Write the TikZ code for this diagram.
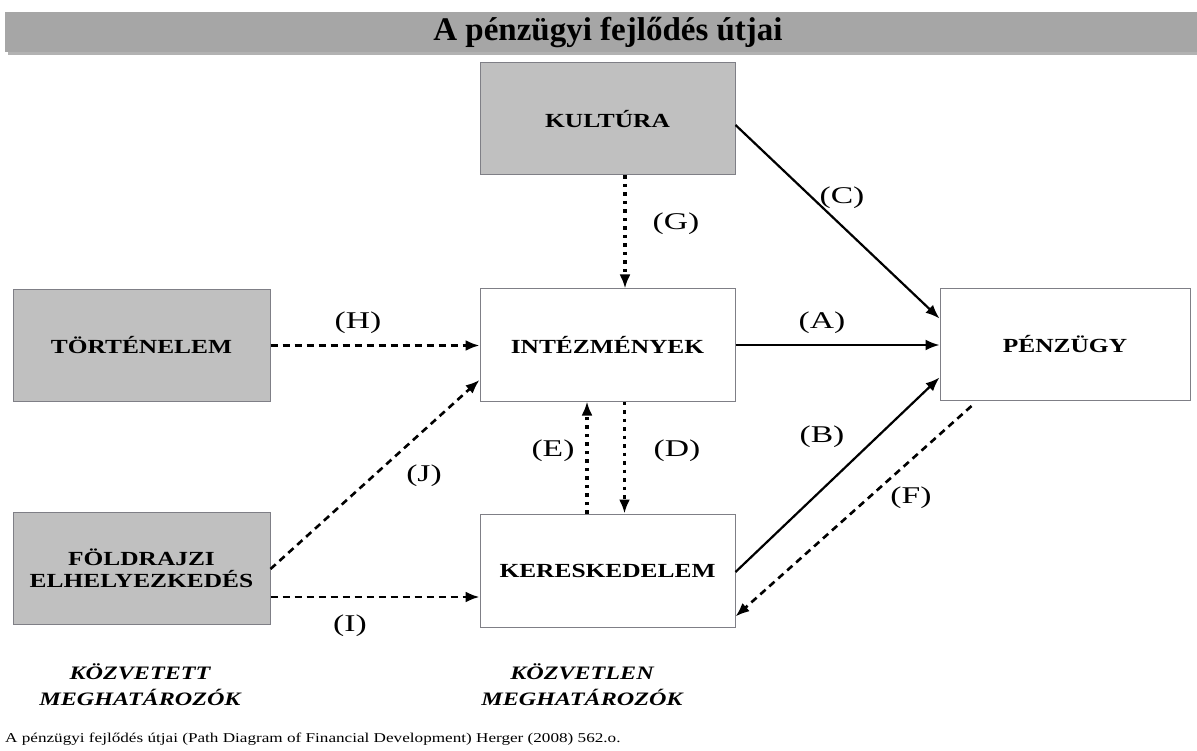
\documentclass[tikz,border=0pt]{standalone}
\usepackage{fontspec}
\setmainfont{Liberation Serif}
\newfontfamily\wideserif[FakeStretch=1.27]{Liberation Serif}
\newfontfamily\labserif[FakeStretch=1.4]{Liberation Serif}
\usetikzlibrary{arrows.meta}
\definecolor{boxgray}{HTML}{C0C0C0}
\definecolor{titlegray}{HTML}{A6A6A6}
\definecolor{edgegray}{HTML}{7F7F86}
\begin{document}
\begin{tikzpicture}[x=1pt,y=-1pt,
  box/.style={draw=edgegray,line width=1pt,minimum width=255pt,minimum height=112pt,inner sep=0pt,align=center,font=\wideserif\bfseries\fontsize{20}{25}\selectfont},
  grey/.style={box,fill=boxgray},
  white/.style={box,fill=white},
  lab/.style={font=\labserif\fontsize{24}{26}\selectfont,inner sep=0pt},
  tip/.style={-{Latex[length=14pt,width=11pt]}},
  solidarr/.style={tip,line width=2.2pt},
  dasharr/.style={tip,line width=2.6pt,dash pattern=on 7pt off 5pt},
  dotarr/.style={tip,line width=3.4pt,dash pattern=on 3.5pt off 5pt},
  foot/.style={font=\wideserif\bfseries\itshape\fontsize{19}{26}\selectfont,align=center,inner sep=0pt}]
\useasboundingbox (0,0) rectangle (1197,751);
\fill[white] (-1,-1) rectangle (1198,752);
% title bar
\fill[gray!60] (8,15) rectangle (1197,55);
\node[fill=titlegray,minimum width=1192pt,minimum height=40pt,inner sep=0pt] (bar) at (601,32) {};
\node[font=\bfseries\fontsize{33}{36}\selectfont] (title) at (608,33) {A pénzügyi fejlődés útjai};
% boxes
\node[grey]  (kult)  at (607.5,119)  {KULTÚRA};
\node[grey,minimum width=257pt]  (tort)  at (141.5,345.5) {TÖRTÉNELEM};
\node[white] (intez) at (607.5,345)  {INTÉZMÉNYEK};
\node[white,minimum width=250pt] (penz)  at (1065,344.5) {PÉNZÜGY};
\node[grey,minimum width=257pt]  (fold)  at (141.5,568)  {FÖLDRAJZI\\[-3pt]ELHELYEZKEDÉS};
\node[white,minimum height=113pt] (keres) at (607.5,570.5) {KERESKEDELEM};
% connectors
\draw[dotarr] ([xshift=17.5pt]kult.south) -- ([xshift=17.5pt]intez.north);
\draw[dasharr] (tort.east) -- (tort.east -| intez.west);
\draw[dasharr] ([yshift=-1pt]fold.east) -- ([yshift=-35pt]intez.west);
\draw[dasharr] ([yshift=-29pt]fold.east) -- ([yshift=-29pt]fold.east -| keres.west);
\draw[solidarr] (intez.east) -- (intez.east -| penz.west);
\draw[solidarr] ([yshift=-6pt]kult.east) -- ([yshift=26pt]penz.west);
\draw[solidarr] ([yshift=-1.5pt]keres.east) -- ([yshift=-33pt]penz.west);
\draw[dasharr] ([xshift=32pt,yshift=-5pt]penz.south west) -- ([yshift=-46pt]keres.east);
\draw[dotarr] ([xshift=-20.5pt]keres.north) -- ([xshift=-20.5pt]intez.south);
\draw[dotarr] ([xshift=17pt]intez.south) -- ([xshift=17pt]keres.north);
% labels
\node[lab] (lC) at (842,198) {(C)};
\node[lab] (lG) at (676,224) {(G)};
\node[lab] (lH) at (358,323) {(H)};
\node[lab] (lA) at (822,323) {(A)};
\node[lab] (lE) at (553,451) {(E)};
\node[lab] (lD) at (677,451) {(D)};
\node[lab] (lB) at (822,437) {(B)};
\node[lab] (lJ) at (424,476) {(J)};
\node[lab] (lF) at (911,498) {(F)};
\node[lab] (lI) at (350,626) {(I)};
% footer
\node[foot] (indir) at (140,685) {KÖZVETETT\\MEGHATÁROZÓK};
\node[foot] (dir) at (582,685) {KÖZVETLEN\\MEGHATÁROZÓK};
\node[font=\wideserif\fontsize{13.5}{14}\selectfont,anchor=west,inner sep=0pt] (cap) at (5,739) {A pénzügyi fejlődés útjai (Path Diagram of Financial Development) Herger (2008) 562.o.};
\end{tikzpicture}
\end{document}
